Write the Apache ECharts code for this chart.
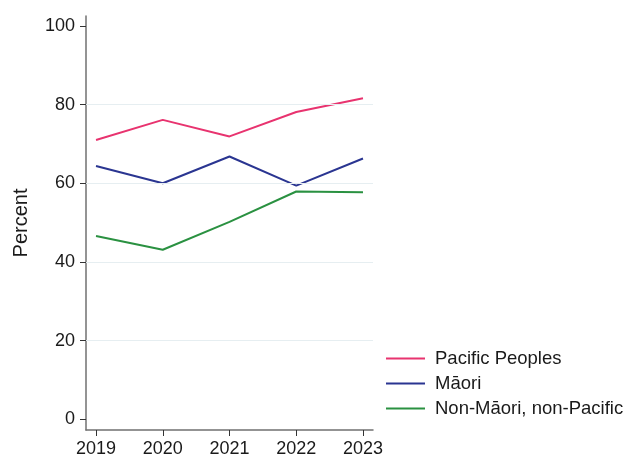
<!DOCTYPE html>
<html>
<head>
<meta charset="utf-8">
<script src="https://cdn.jsdelivr.net/npm/echarts@6/dist/echarts.min.js"></script>
<style>html,body{margin:0;padding:0;background:#fff;}#c{width:624px;height:454px;}</style>
</head>
<body>
<div id="c"></div>
<script>
const years = [2019, 2020, 2021, 2022, 2023];
const yTicks = [0, 20, 40, 60, 80, 100];
const gridValues = [20, 40, 60, 80];
const pacific = [71.0, 76.1, 71.9, 78.1, 81.6];
const maori = [64.4, 60.0, 66.8, 59.4, 66.3];
const nonMaori = [46.6, 43.1, 50.2, 57.9, 57.7];
const names = ['Pacific Peoples', 'Māori', 'Non-Māori, non-Pacific'];
const colors = ['#e8336f', '#2a3591', '#2a9141'];

const FONT = 'Liberation Sans, Arial, sans-serif';
const pair = arr => years.map((y, i) => [y, arr[i]]);
const chart = echarts.init(document.getElementById('c'), null, {renderer: 'canvas'});
chart.setOption({
  animation: false,
  textStyle: {fontFamily: FONT},
  grid: {left: 86, top: 16, right: 251, bottom: 24, containLabel: false, outerBoundsMode: 'none'},
  legend: {
    data: names,
    orient: 'vertical',
    left: 381,
    top: 344,
    itemWidth: 39,
    itemHeight: 2,
    itemGap: 6,
    icon: 'rect',
    textStyle: {fontFamily: FONT, fontSize: 18.5, color: '#1a1a1a', padding: [0, 0, 0, 5]}
  },
  xAxis: {
    type: 'value',
    min: 2018.85,
    max: 2023.15,
    axisLine: {show: true, onZero: false, lineStyle: {color: '#707070', width: 1.5}},
    axisTick: {show: true, length: 6, customValues: years, lineStyle: {color: '#333', width: 1}},
    axisLabel: {customValues: years, fontSize: 18, color: '#1a1a1a', margin: 10, formatter: v => String(v)},
    splitLine: {show: false}
  },
  yAxis: {
    type: 'value',
    min: -2.7,
    max: 102.5,
    name: 'Percent',
    nameLocation: 'middle',
    nameGap: 55,
    nameTextStyle: {fontSize: 20, color: '#1a1a1a', fontFamily: FONT},
    axisLine: {show: true, onZero: false, lineStyle: {color: '#707070', width: 1.5}},
    axisTick: {show: true, length: 6, customValues: yTicks, lineStyle: {color: '#333', width: 1}},
    axisLabel: {customValues: yTicks, fontSize: 18, color: '#1a1a1a', margin: 11},
    splitLine: {show: false}
  },
  series: [
    {
      name: '_grid', type: 'line', data: [], silent: true, z: 1,
      markLine: {
        silent: true, symbol: 'none', label: {show: false},
        lineStyle: {color: '#e6eef1', width: 1.2, type: 'solid'},
        data: gridValues.map(v => ({yAxis: v}))
      }
    },
    {name: names[0], type: 'line', data: pair(pacific), symbol: 'none', z: 3, lineStyle: {width: 2, color: colors[0]}, itemStyle: {color: colors[0]}},
    {name: names[1], type: 'line', data: pair(maori), symbol: 'none', z: 3, lineStyle: {width: 2, color: colors[1]}, itemStyle: {color: colors[1]}},
    {name: names[2], type: 'line', data: pair(nonMaori), symbol: 'none', z: 3, lineStyle: {width: 2, color: colors[2]}, itemStyle: {color: colors[2]}}
  ]
});
</script>
</body>
</html>
